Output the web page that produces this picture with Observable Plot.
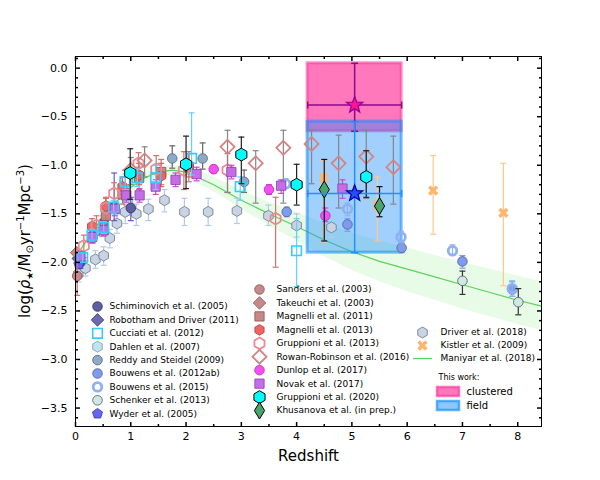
<!DOCTYPE html>
<html><head><meta charset="utf-8">
<script src="https://cdn.jsdelivr.net/npm/d3@7"></script>
<script src="https://cdn.jsdelivr.net/npm/@observablehq/plot@0.6"></script>
<style>body{margin:0;background:#fff}#chart{width:600px;height:480px}</style>
</head><body><div id="chart"></div>
<script>
// ---- data: [redshift, log SFRD, error-bar low end, error-bar high end] ----
const schiminovich2005 = [[0.09,-2.0,-2.06,-1.94],[0.31,-1.74,-1.8,-1.68],[0.51,-1.59,-1.66,-1.52],[0.7,-1.43,-1.57,-1.08],[1.0,-1.44,-1.57,-1.33]];
const robotham2011 = [[0.05,-1.96]];
const cucciati2012 = [[0.13,-1.95,-2.0,-1.9],[0.3,-1.72,-1.78,-1.66],[0.51,-1.64,-1.7,-1.58],[0.69,-1.43,-1.5,-1.36],[0.9,-1.17,-1.25,-1.09],[1.12,-1.13,-1.22,-1.04],[1.45,-1.13,-1.25,-1.0],[2.1,-0.93,-1.1,-0.46],[2.98,-1.22,-1.36,-1.12],[4.0,-1.88,-2.25,-1.55]];
const dahlen2007 = [[0.45,-1.68],[0.95,-1.38]];
const reddy2009 = [[1.75,-0.93,-1.03,-0.8],[2.3,-0.93,-1.04,-0.77],[3.05,-1.17,-1.28,-1.05]];
const bouwens2012 = [[3.82,-1.48,-1.53,-1.43],[4.92,-1.61,-1.68,-1.55],[5.9,-1.85,-1.9,-1.8],[7.0,-1.99,-2.06,-1.93],[7.9,-2.28,-2.35,-2.2]];
const bouwens2015 = [[3.8,-1.19,-1.24,-1.14],[4.92,-1.45,-1.52,-1.39],[5.89,-1.74,-1.8,-1.68],[6.82,-1.88,-1.93,-1.82],[7.9,-2.27,-2.35,-2.19]];
const schenker2013 = [[7.0,-2.19,-2.33,-2.09],[8.01,-2.41,-2.54,-2.27]];
const wyder2005 = [[0.06,-2.02]];
const sanders2003 = [[0.03,-2.14,-2.34,-1.98]];
const takeuchi2003 = [[0.02,-1.9]];
const magnelli2011 = [[0.55,-1.52,-1.62,-1.42],[0.85,-1.3,-1.4,-1.2],[1.15,-1.13,-1.25,-1.02],[1.55,-1.07,-1.2,-0.94],[2.05,-1.02,-1.17,-0.88]];
const magnelli2013 = [[0.3,-1.63,-1.71,-1.55],[0.55,-1.42,-1.5,-1.34],[0.85,-1.22,-1.3,-1.12],[1.15,-1.1,-1.2,-0.98],[1.55,-1.11,-1.22,-0.98],[2.05,-1.0,-1.12,-0.86]];
const gruppioni2013 = [[0.15,-1.83,-1.95,-1.72],[0.38,-1.62,-1.72,-1.52],[0.55,-1.44,-1.55,-1.33],[0.7,-1.29,-1.4,-1.18],[0.9,-1.17,-1.28,-1.05],[1.14,-0.98,-1.1,-0.87],[1.46,-1.04,-1.2,-0.9],[1.96,-1.05,-1.25,-0.86],[2.75,-1.05,-1.28,-0.88],[3.62,-1.55,-2.05,-1.33]];
const rowan2016 = [[1.0,-1.05,-1.2,-0.92],[1.25,-0.95,-1.12,-0.81],[2.75,-0.81,-1.28,-0.64],[3.26,-0.98,-1.39,-0.85],[3.76,-0.82,-1.39,-0.64],[4.27,-0.78,-1.19,-0.64],[4.76,-0.98,-1.44,-0.69],[5.26,-0.91,-1.34,-0.64],[5.75,-1.02,-1.4,-0.7]];
const dunlop2017 = [[2.5,-1.04,-1.08,-1.0],[3.5,-1.25,-1.3,-1.2],[4.52,-1.52,-1.58,-1.44]];
const novak2017 = [[0.09,-1.94],[0.3,-1.74,-1.8,-1.68],[0.51,-1.67,-1.73,-1.6],[0.71,-1.45,-1.52,-1.38],[0.92,-1.31,-1.38,-1.24],[1.16,-1.31,-1.38,-1.24],[1.45,-1.22,-1.3,-1.15],[1.81,-1.15,-1.22,-1.08],[2.19,-1.09,-1.16,-1.02],[2.82,-1.07,-1.14,-1.0],[3.72,-1.21,-1.29,-1.15],[4.83,-1.24,-1.34,-1.15]];
const gruppioni2020 = [[0.99,-1.08,-1.35,-0.83],[2.0,-0.99,-1.24,-0.7],[3.0,-0.89,-1.19,-0.71],[4.0,-1.2,-1.41,-0.99],[5.26,-1.12,-1.33,-0.85]];
const khusanova = [[4.5,-1.25,-1.78,-0.94],[5.5,-1.42,-1.53,-1.22]];
const driver2018 = [[0.05,-2.12,-2.2,-2.04],[0.18,-2.06,-2.14,-1.98],[0.36,-1.97,-2.06,-1.88],[0.51,-1.93,-2.03,-1.84],[0.62,-1.75,-1.85,-1.66],[0.75,-1.6,-1.7,-1.5],[0.9,-1.48,-1.6,-1.38],[1.1,-1.5,-1.62,-1.4],[1.32,-1.45,-1.57,-1.35],[1.61,-1.36,-1.48,-1.25],[1.97,-1.48,-1.62,-1.34],[2.4,-1.48,-1.62,-1.34],[2.92,-1.47,-1.6,-1.34],[3.49,-1.52,-1.62,-1.41],[4.0,-1.62,-1.74,-1.5],[4.63,-1.64,-1.74,-1.54]];
const kistler2009 = [[4.49,-1.13,-1.79,-0.95],[5.46,-1.41,-1.78,-1.12],[6.47,-1.26,-1.71,-0.9],[7.74,-1.49,-2.24,-0.98]];
// Maniyar et al. (2018) fit and its band
const maniyarZ  = [0,0.25,0.5,0.75,1,1.25,1.5,1.75,2,2.5,3,3.5,4,4.5,5,5.5,6,6.5,7,7.5,8,8.43];
const maniyarV  = [-1.95,-1.73,-1.53,-1.37,-1.23,-1.13,-1.07,-1.05,-1.07,-1.2,-1.36,-1.5,-1.63,-1.77,-1.89,-1.99,-2.07,-2.15,-2.23,-2.31,-2.39,-2.45];
const maniyarLo = [-2.0,-1.78,-1.58,-1.42,-1.28,-1.18,-1.12,-1.1,-1.13,-1.27,-1.45,-1.62,-1.78,-1.94,-2.08,-2.2,-2.3,-2.39,-2.48,-2.56,-2.64,-2.7];
const maniyarHi = [-1.9,-1.68,-1.48,-1.32,-1.18,-1.08,-1.02,-1.0,-1.01,-1.12,-1.26,-1.38,-1.48,-1.6,-1.7,-1.78,-1.85,-1.93,-2.0,-2.07,-2.14,-2.2];
// This work: [z, zLow, zHigh, logSFRD, low, high]
const clustered = [[5.05,4.2,5.9,-0.38,-0.65,0.05]];
const field = [[5.05,4.2,5.9,-1.29,-1.9,-0.55]];
// tick labels
const xMajor = [0,1,2,3,4,5,6,7,8];
const yMajor = [-3.5,-3.0,-2.5,-2.0,-1.5,-1.0,-0.5,0.0];
// legend labels
const legend1 = ["Schiminovich et al. (2005)","Robotham and Driver (2011)","Cucciati et al. (2012)","Dahlen et al. (2007)","Reddy and Steidel (2009)","Bouwens et al. (2012ab)","Bouwens et al. (2015)","Schenker et al. (2013)","Wyder et al. (2005)"];
const legend2 = ["Sanders et al. (2003)","Takeuchi et al. (2003)","Magnelli et al. (2011)","Magnelli et al. (2013)","Gruppioni et al. (2013)","Rowan-Robinson et al. (2016)","Dunlop et al. (2017)","Novak et al. (2017)","Gruppioni et al. (2020)","Khusanova et al. (in prep.)"];
const legend3 = ["Driver et al. (2018)","Kistler et al. (2009)","Maniyar et al. (2018)"];

// ---- symbols ----
function poly(pts){return {draw(c,size){const r=Math.sqrt(size/Math.PI);pts.forEach(([a,b],i)=>i?c.lineTo(a*r,b*r):c.moveTo(a*r,b*r));c.closePath();}};}
const symHex = poly([[0,-1],[0.866,-0.5],[0.866,0.5],[0,1],[-0.866,0.5],[-0.866,-0.5]]);
const symDiamond = poly([[0,-1],[1,0],[0,1],[-1,0]]);
const symThin = poly([[0,-1],[0.6,0],[0,1],[-0.6,0]]);
const symSquare = poly([[-0.8,-0.8],[0.8,-0.8],[0.8,0.8],[-0.8,0.8]]);
const symPent = poly(d3.range(5).map(i=>{const a=-Math.PI/2+i*2*Math.PI/5;return [Math.cos(a),Math.sin(a)];}));
const symStar = poly(d3.range(10).map(i=>{const a=-Math.PI/2+i*Math.PI/5,k=i%2?0.42:1;return [k*Math.cos(a),k*Math.sin(a)];}));
const w=0.32, plus=[[-w,-1],[w,-1],[w,-w],[1,-w],[1,w],[w,w],[w,1],[-w,1],[-w,w],[-1,w],[-1,-w],[-w,-w]];
const symX = poly(plus.map(([x,y])=>[(x-y)/Math.SQRT2,(x+y)/Math.SQRT2]));
function line(dx,dy,center){return {draw(c,size){const r=Math.sqrt(size/Math.PI);if(center){c.moveTo(-dx*r,-dy*r);}else c.moveTo(0,0);c.lineTo(dx*r,dy*r);}};}
const capH=line(1,0,true), capV=line(0,1,true);
const tUp=line(0,-1), tDown=line(0,1), tRight=line(1,0), tLeft=line(-1,0);

// ---- styles ----
const S = {
 schiminovich:{symbol:"circle",r:4.8,fill:"#5e5ea2",stroke:"#2e2e60",sw:0.8,ec:"#6a5acd"},
 robotham:{symbol:symDiamond,r:6.3,fill:"#6b6bb2",stroke:"#34347a",sw:0.8,ec:"#6a5acd"},
 cucciati:{symbol:symSquare,r:6,fill:"none",stroke:"#33ccff",sw:1.6,ec:"#5fd3ff",lfill:"white"},
 dahlen:{symbol:symHex,r:5.5,fill:"#bfe3ef",stroke:"#7f9aa8",sw:0.8,ec:"#9cc"},
 reddy:{symbol:"circle",r:4.8,fill:"#8eaac6",stroke:"#4c6275",sw:0.8,ec:"#666"},
 bouwens12:{symbol:"circle",r:4.8,fill:"#7f9bea",stroke:"#4a5fa8",sw:0.8,ec:"#7f9be0"},
 bouwens15:{symbol:"circle",r:4.3,fill:"none",stroke:"#8fb1f3",sw:2.8,ec:"#8fb1f3",lfill:"white"},
 schenker:{symbol:"circle",r:4.8,fill:"#cde8e6",stroke:"#4a5a5a",sw:0.8,ec:"#333"},
 wyder:{symbol:symPent,r:5.3,fill:"#6666f0",stroke:"#3333b0",sw:0.8,ec:"#66f"},
 sanders:{symbol:"circle",r:4.8,fill:"#c58989",stroke:"#8a5050",sw:0.8,ec:"#cc7070"},
 takeuchi:{symbol:symDiamond,r:6.3,fill:"#c58989",stroke:"#8a5050",sw:0.8,ec:"#cc7070"},
 magnelli11:{symbol:symSquare,r:5.8,fill:"#c58989",stroke:"#8a5050",sw:0.8,ec:"#cc7070"},
 magnelli13:{symbol:symHex,r:5.3,fill:"#f26464",stroke:"#b03c3c",sw:0.8,ec:"#e06060"},
 gruppioni13:{symbol:symHex,r:5.8,fill:"none",stroke:"#ec8a94",sw:1.8,ec:"#d27272",lfill:"white"},
 rowan:{symbol:symDiamond,r:7,fill:"none",stroke:"#d48484",sw:1.8,ec:"#858585",lfill:"white"},
 dunlop:{symbol:"circle",r:4.8,fill:"#f250f2",stroke:"#b030b0",sw:0.8,ec:"#e040e0"},
 novak:{symbol:symSquare,r:5.8,fill:"#c46ee6",stroke:"#8c3cb4",sw:0.8,ec:"#d048d0"},
 gruppioni20:{symbol:symHex,r:6.4,fill:"#00ffff",stroke:"#000",sw:1,ec:"#222"},
 khusanova:{symbol:symThin,r:8.5,fill:"#4aa56a",stroke:"#000",sw:1,ec:"#111"},
 driver:{symbol:symHex,r:5.5,fill:"#c8d3e3",stroke:"#6a7788",sw:0.8,ec:"#b4cbe8"},
 kistler:{symbol:symX,r:5.5,fill:"#ffb56b",stroke:"none",sw:0,ec:"#ffc78c"}
};

// ---- helpers ----
const W=600,H=480,ML=75,MR=59,MT=56,MB=54;
const xDom=[0,8.43], yDom=[-3.69,0.12];
const px2x=p=>xDom[0]+(p-ML)/(W-ML-MR)*(xDom[1]-xDom[0]);
const px2y=p=>yDom[1]-(p-MT)/(H-MT-MB)*(yDom[1]-yDom[0]);

function series(data,s){
  const e=data.filter(d=>d.length>2);
  return [
    Plot.ruleX(e,{x:d=>d[0],y1:d=>d[2],y2:d=>d[3],stroke:s.ec,strokeWidth:1.2}),
    Plot.dot(e,{x:d=>d[0],y:d=>d[2],symbol:capH,r:3,stroke:s.ec,fill:"none",strokeWidth:1.2}),
    Plot.dot(e,{x:d=>d[0],y:d=>d[3],symbol:capH,r:3,stroke:s.ec,fill:"none",strokeWidth:1.2}),
    Plot.dot(data,{x:d=>d[0],y:d=>d[1],symbol:s.symbol,r:s.r,fill:s.fill,stroke:s.stroke,strokeWidth:s.sw})
  ];
}
function legendEntries(labels,keys,mx,tx,y0,step){
  const marks=[];
  labels.forEach((lab,i)=>{
    const s=S[keys[i]], yy=px2y(y0+i*step);
    if(s) marks.push(Plot.dot([lab],{x:()=>px2x(mx),y:()=>yy,symbol:s.symbol,r:s.r,fill:s.lfill||s.fill,stroke:s.stroke,strokeWidth:s.sw}));
  });
  marks.push(Plot.text(labels,{x:()=>px2x(tx),y:(d,i)=>px2y(y0+i*step),text:d=>d,textAnchor:"start",fontSize:9,fill:"#000"}));
  return marks;
}
function thisWork(data,fill,fop,edge,star,starEdge,ecol){
  return {
    box:[Plot.rect(data,{x1:d=>d[1],x2:d=>d[2],y1:d=>d[4],y2:d=>d[5],fill,fillOpacity:fop,stroke:edge,strokeWidth:3,strokeOpacity:0.6})],
    top:[
      Plot.ruleX(data,{x:d=>d[0],y1:d=>d[4],y2:d=>d[5],stroke:ecol,strokeWidth:1.5}),
      Plot.ruleY(data,{y:d=>d[3],x1:d=>d[1],x2:d=>d[2],stroke:ecol,strokeWidth:1.5}),
      Plot.dot(data,{x:d=>d[0],y:d=>d[4],symbol:capH,r:3.5,stroke:ecol,strokeWidth:1.5}),
      Plot.dot(data,{x:d=>d[0],y:d=>d[5],symbol:capH,r:3.5,stroke:ecol,strokeWidth:1.5}),
      Plot.dot(data,{x:d=>d[1],y:d=>d[3],symbol:capV,r:3.5,stroke:ecol,strokeWidth:1.5}),
      Plot.dot(data,{x:d=>d[2],y:d=>d[3],symbol:capV,r:3.5,stroke:ecol,strokeWidth:1.5}),
      Plot.dot(data,{x:d=>d[0],y:d=>d[3],symbol:symStar,r:8.5,fill:star,stroke:starEdge,strokeWidth:1.3})
    ]
  };
}
const tw1=thisWork(clustered,"#ff69b4",0.9,"#ff3d9e","#ff1493","#99009a","#8b0a8b");
const tw2=thisWork(field,"#1e90ff",0.42,"#1e90ff","#2a4bff","#0000b0","#1e90ff");

const xMinor=d3.range(0.5,8.43,0.5).filter(v=>Math.abs(v-Math.round(v))>1e-6);
const yMinor=d3.range(-36,2).map(v=>v/10).filter(v=>Math.abs(v*2-Math.round(v*2))>1e-6);
const idx=maniyarZ.map((_,i)=>i);

const marks=[
  Plot.areaY(idx,{x:i=>maniyarZ[i],y1:i=>maniyarLo[i],y2:i=>maniyarHi[i],fill:"#90ee90",fillOpacity:0.22}),
  Plot.line(idx,{x:i=>maniyarZ[i],y:i=>maniyarV[i],stroke:"#5ad45a",strokeWidth:1.2}),
  ...tw1.box, ...tw2.box,
  ...series(driver2018,S.driver),
  ...series(dahlen2007,S.dahlen),
  ...series(schiminovich2005,S.schiminovich),
  ...series(robotham2011,S.robotham),
  ...series(wyder2005,S.wyder),
  ...series(sanders2003,S.sanders),
  ...series(takeuchi2003,S.takeuchi),
  ...series(magnelli2011,S.magnelli11),
  ...series(magnelli2013,S.magnelli13),
  ...series(gruppioni2013,S.gruppioni13),
  ...series(rowan2016,S.rowan),
  ...series(reddy2009,S.reddy),
  ...series(bouwens2012,S.bouwens12),
  ...series(bouwens2015,S.bouwens15),
  ...series(schenker2013,S.schenker),
  ...series(kistler2009,S.kistler),
  ...series(dunlop2017,S.dunlop),
  ...series(novak2017,S.novak),
  ...series(cucciati2012,S.cucciati),
  ...series(gruppioni2020,S.gruppioni20),
  ...series(khusanova,S.khusanova),
  ...tw1.top, ...tw2.top,
  // legend
  ...legendEntries(legend1,["schiminovich","robotham","cucciati","dahlen","reddy","bouwens12","bouwens15","schenker","wyder"],97,109,306,13.4),
  ...legendEntries(legend2,["sanders","takeuchi","magnelli11","magnelli13","gruppioni13","rowan","dunlop","novak","gruppioni20","khusanova"],259,276,289,13.45),
  ...legendEntries(legend3,["driver","kistler",null],422,440,332,13),
  Plot.ruleY([0],{y:()=>px2y(358),x1:()=>px2x(413),x2:()=>px2x(432),stroke:"#5ad45a",strokeWidth:1.2}),
  Plot.text(["This work:"],{x:()=>px2x(438),y:()=>px2y(377),text:d=>d,textAnchor:"start",fontSize:8,fill:"#000"}),
  Plot.rect([0],{x1:()=>px2x(437),x2:()=>px2x(459),y1:()=>px2y(387),y2:()=>px2y(396),fill:"#ff69b4",fillOpacity:0.9,stroke:"#ff3d9e",strokeWidth:2.5,strokeOpacity:0.7}),
  Plot.rect([0],{x1:()=>px2x(437),x2:()=>px2x(459),y1:()=>px2y(401),y2:()=>px2y(410),fill:"#1e90ff",fillOpacity:0.5,stroke:"#1e90ff",strokeWidth:2.5,strokeOpacity:0.7}),
  Plot.text(["clustered","field"],{x:()=>px2x(466),y:(d,i)=>px2y(391.5+i*14),text:d=>d,textAnchor:"start",fontSize:10,fill:"#000"}),
  // axes
  Plot.frame({stroke:"#000",strokeWidth:1}),
  Plot.dot(xMajor,{x:d=>d,frameAnchor:"bottom",symbol:tUp,r:4.5,stroke:"#000"}),
  Plot.dot(xMinor,{x:d=>d,frameAnchor:"bottom",symbol:tUp,r:2.5,stroke:"#000"}),
  Plot.dot(xMajor,{x:d=>d,frameAnchor:"top",symbol:tDown,r:4.5,stroke:"#000"}),
  Plot.dot(xMinor,{x:d=>d,frameAnchor:"top",symbol:tDown,r:2.5,stroke:"#000"}),
  Plot.dot(yMajor,{y:d=>d,frameAnchor:"left",symbol:tRight,r:4.5,stroke:"#000"}),
  Plot.dot(yMinor,{y:d=>d,frameAnchor:"left",symbol:tRight,r:2.5,stroke:"#000"}),
  Plot.dot(yMajor,{y:d=>d,frameAnchor:"right",symbol:tLeft,r:4.5,stroke:"#000"}),
  Plot.dot(yMinor,{y:d=>d,frameAnchor:"right",symbol:tLeft,r:2.5,stroke:"#000"}),
  Plot.axisX({anchor:"bottom",ticks:xMajor,tickSize:0,tickPadding:6,tickFormat:d=>String(d),fontSize:11,label:null}),
  Plot.axisY({anchor:"left",ticks:yMajor,tickSize:0,tickPadding:8,tickFormat:d3.format(".1f"),fontSize:11,label:null}),
  Plot.text(["Redshift"],{frameAnchor:"bottom",dy:34,text:d=>d,fontSize:15,fill:"#000"})
];

const svg=Plot.plot({
  width:W,height:H,marginLeft:ML,marginRight:MR,marginTop:MT,marginBottom:MB,
  x:{domain:xDom},y:{domain:yDom},
  style:{fontFamily:"DejaVu Sans",fontSize:"11px",background:"white",color:"#000"},
  marks
});
// y-axis label with sub/superscripts
const t=d3.select(svg).append("text").attr("transform",`translate(30,${(MT+H-MB)/2}) rotate(-90)`)
  .attr("text-anchor","middle").attr("font-size",15).attr("font-family","DejaVu Sans").attr("fill","#000");
t.append("tspan").text("log(");
t.append("tspan").attr("font-style","italic").text("ρ\u0307");
t.append("tspan").attr("font-size",9).attr("dy",3).text("★");
t.append("tspan").attr("dy",-3).text("/M");
t.append("tspan").attr("font-size",10).attr("dy",3).text("⊙");
t.append("tspan").attr("dy",-3).text("yr");
t.append("tspan").attr("font-size",10).attr("dy",-6).text("−1");
t.append("tspan").attr("dy",6).text("Mpc");
t.append("tspan").attr("font-size",10).attr("dy",-6).text("−3");
t.append("tspan").attr("dy",6).text(")");
document.getElementById("chart").appendChild(svg);
</script></body></html>
